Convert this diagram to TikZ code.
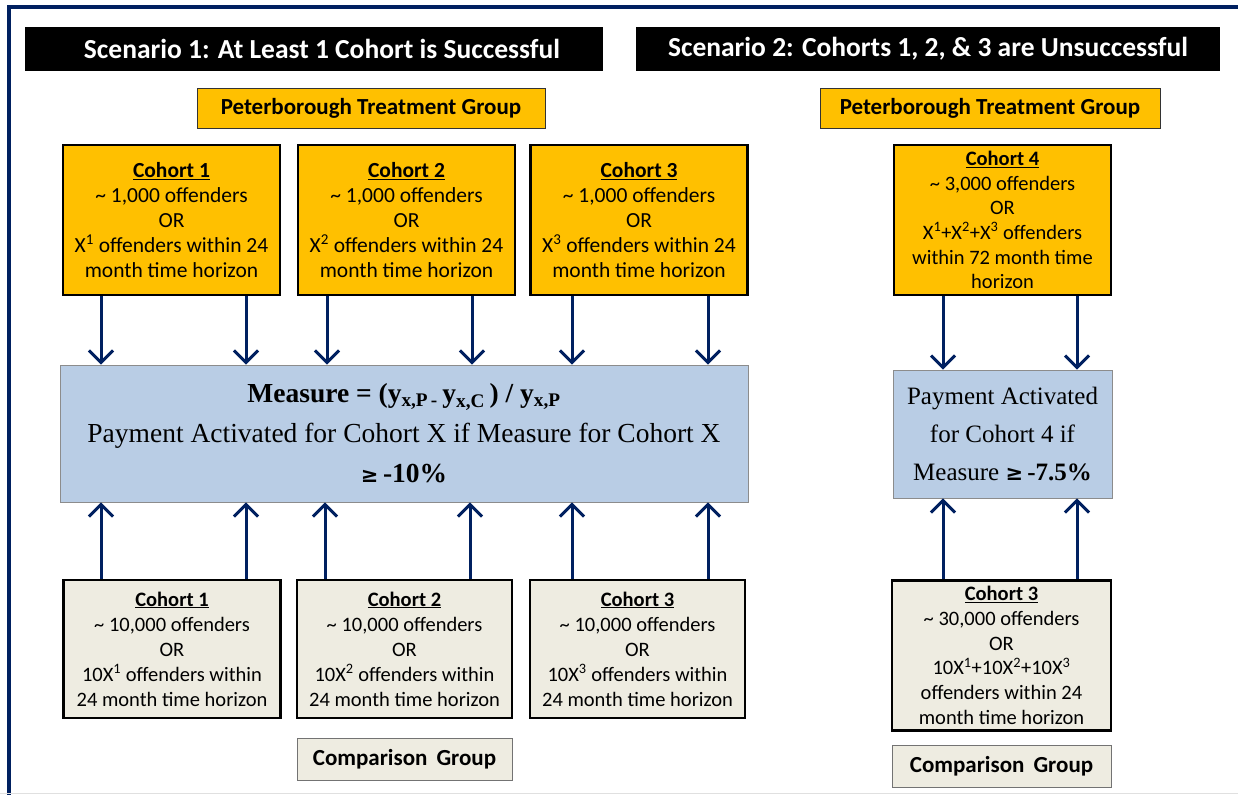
\documentclass[tikz,border=0pt]{standalone}
\usepackage{fontspec}
\setmainfont{Liberation Serif}
\newfontfamily\calib{Carlito}
\newfontfamily\djv{DejaVu Sans}
\usetikzlibrary{arrows.meta}
\definecolor{gold}{HTML}{FFC000}
\definecolor{tan}{HTML}{EEECE1}
\definecolor{lblue}{HTML}{B9CDE5}
\definecolor{navy}{HTML}{002060}
\newcommand{\geqsym}{{\djv\bfseries\fontsize{21}{21}\selectfont ≥}}
\begin{document}
\begin{tikzpicture}[x=1pt,y=-1pt,
  titlebox/.style={fill=black,text=white,font=\calib\bfseries\fontsize{27.5}{30}\selectfont,minimum width=578,minimum height=44,inner sep=0},
  groupbox/.style={draw=black!80,line width=0.8,fill=gold,font=\calib\bfseries\fontsize{23}{26}\selectfont,minimum width=348,minimum height=40,inner sep=0},
  compbox/.style={draw=black!55,line width=0.8,fill=tan,font=\calib\bfseries\fontsize{23}{26}\selectfont,minimum width=215,minimum height=42,inner sep=0},
  tcohort/.style={draw=black,line width=2.2,fill=gold,align=center,font=\calib\fontsize{21.5}{25}\selectfont,minimum width=217,minimum height=150,inner sep=0},
  bcohort/.style={draw=black,line width=2.2,fill=tan,align=center,font=\calib\fontsize{20.5}{25}\selectfont,minimum width=217,minimum height=138,inner sep=0},
  mbox/.style={draw=black!45,line width=0.8,fill=lblue,align=center,font=\fontsize{27.5}{40}\selectfont,inner sep=0},
  arr/.style={draw=navy,line width=3,-{Straight Barb[length=12,width=24,line width=3]}}
]
\useasboundingbox (0,0) rectangle (1238,795);
\fill[white] (0,0) rectangle (1238,795);
% frame
\draw[navy,line width=3.5] (1238,7) -- (9,7) -- (9,795);
\draw[black!12,line width=1.5] (0,793.5) -- (1238,793.5);

% titles
\node[titlebox] (s1) at (314,49) {\hspace{16pt}Scenario 1: At Least 1 Cohort is Successful};
\node[titlebox,minimum width=584] (s2) at (928,49) {Scenario 2: Cohorts 1, 2, \& 3 are Unsuccessful\hspace{8pt}};

\node[groupbox] (g1) at (371,108) {Peterborough Treatment Group};
\node[groupbox,minimum width=340] (g2) at (990,108) {Peterborough Treatment Group};

% top cohorts
\node[tcohort] (t1) at (171.5,220) {\underline{\textbf{Cohort 1}}\\\textasciitilde{} 1,000 offenders\\OR\\X\textsuperscript{1} offenders within 24\\month time horizon};
\node[tcohort] (t2) at (406.5,220) {\underline{\textbf{Cohort 2}}\\\textasciitilde{} 1,000 offenders\\OR\\X\textsuperscript{2} offenders within 24\\month time horizon};
\node[tcohort] (t3) at (639,220) {\underline{\textbf{Cohort 3}}\\\textasciitilde{} 1,000 offenders\\OR\\X\textsuperscript{3} offenders within 24\\month time horizon};
\node[tcohort,font=\calib\fontsize{20.5}{24.7}\selectfont] (t4) at (1002.5,220) {\underline{\textbf{Cohort 4}}\\\textasciitilde{} 3,000 offenders\\OR\\X\textsuperscript{1}+X\textsuperscript{2}+X\textsuperscript{3} offenders\\within 72 month time\\horizon};

% measure boxes
\node[mbox,minimum width=688,minimum height=137] (m1) at (404,433.5) {\textbf{Measure = (y\textsubscript{x,P\,-}\,y\textsubscript{x,C}\,) / y\textsubscript{x,P}}\\Payment Activated for Cohort X if Measure for Cohort X\\\geqsym\,\textbf{-10\%}};
\node[mbox,minimum width=219,minimum height=128,font=\fontsize{25}{38}\selectfont] (m2) at (1002.5,434) {Payment Activated\\for Cohort 4 if\\Measure \geqsym\,\textbf{-7.5\%}};

% bottom cohorts
\node[bcohort] (b1) at (172,649) {\underline{\textbf{Cohort 1}}\\\textasciitilde{} 10,000 offenders\\OR\\10X\textsuperscript{1} offenders within\\24 month time horizon};
\node[bcohort,minimum width=215] (b2) at (404.5,649) {\underline{\textbf{Cohort 2}}\\\textasciitilde{} 10,000 offenders\\OR\\10X\textsuperscript{2} offenders within\\24 month time horizon};
\node[bcohort,minimum width=215] (b3) at (637.5,649) {\underline{\textbf{Cohort 3}}\\\textasciitilde{} 10,000 offenders\\OR\\10X\textsuperscript{3} offenders within\\24 month time horizon};
\node[bcohort,minimum width=219,minimum height=150,font=\calib\fontsize{20.5}{24.7}\selectfont] (b4) at (1001.5,655.5) {\underline{\textbf{Cohort 3}}\\\textasciitilde{} 30,000 offenders\\OR\\10X\textsuperscript{1}+10X\textsuperscript{2}+10X\textsuperscript{3}\\offenders within 24\\month time horizon};

\node[compbox] (c1) at (404.5,759) {Comparison\, Group};
\node[compbox,minimum width=219] (c2) at (1001.5,766.5) {Comparison\, Group};

% arrows down
\foreach \n/\dx in {t1/-70.5,t1/74.5,t2/-79.5,t2/65.5,t3/-67,t3/69}{
  \draw[arr] ([xshift=\dx]\n.south) -- ([xshift=\dx]\n.south |- m1.north);
}
\foreach \dx in {-59.5,74.5}{
  \draw[arr] ([xshift=\dx]t4.south) -- ([xshift=\dx]t4.south |- m2.north);
  \draw[arr] ([xshift=\dx+1]b4.north) -- ([xshift=\dx+1]b4.north |- m2.south);
}
% arrows up
\foreach \n/\dx in {b1/-71,b1/74,b2/-79.5,b2/65.5,b3/-65.5,b3/70.5}{
  \draw[arr] ([xshift=\dx]\n.north) -- ([xshift=\dx]\n.north |- m1.south);
}
\end{tikzpicture}
\end{document}
